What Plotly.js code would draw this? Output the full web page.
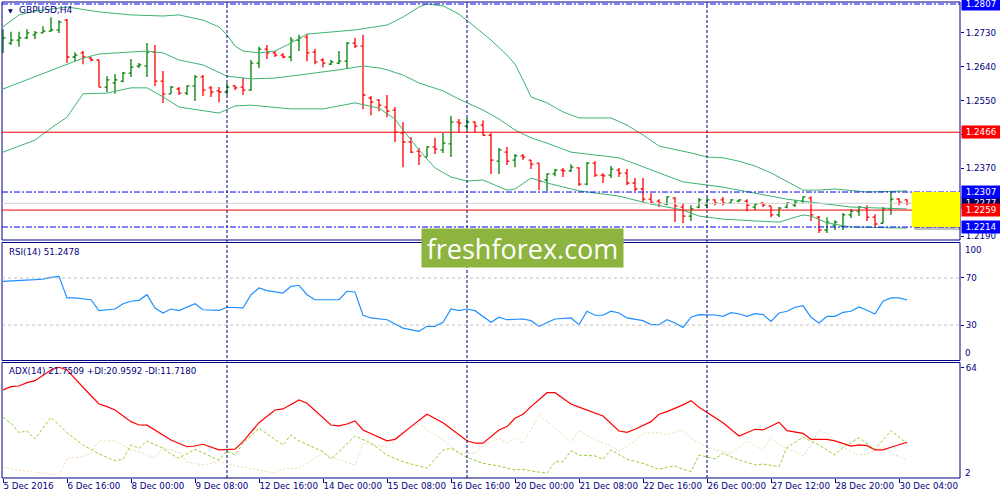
<!DOCTYPE html>
<html>
<head>
<meta charset="utf-8">
<script src="https://cdn.plot.ly/plotly-3.0.1.min.js"></script>
<style>
    html, body { margin: 0; padding: 0; background: #ffffff; }
    #chart { width: 1000px; height: 500px; }
</style>
</head>
<body>
<div id="chart"></div>
<script>
/*jslint browser:true */

var NAVY = '#000080';
var FONT = 'DejaVu Sans';

// time axis: one slot per H4 bar
var tickBars = [0, 8, 16, 24, 32, 40, 48, 56, 64, 72, 80, 88, 96, 104, 112];
var tickLabels = ['5 Dec 2016', '6 Dec 16:00', '8 Dec 00:00', '9 Dec 08:00', '12 Dec 16:00',
    '14 Dec 00:00', '15 Dec 08:00', '16 Dec 16:00', '20 Dec 00:00', '21 Dec 08:00',
    '22 Dec 16:00', '26 Dec 00:00', '27 Dec 12:00', '28 Dec 20:00', '30 Dec 04:00'];
var weekSeparators = [28, 58, 88];

// GBPUSD H4 bars
var barOpen = [1.2703, 1.2703, 1.2711, 1.2717, 1.2725, 1.2730, 1.2735, 1.2738, 1.2764, 1.2666,
    1.2677, 1.2663, 1.2658, 1.2586, 1.2597, 1.2602, 1.2623, 1.2642, 1.2642, 1.2679,
    1.2602, 1.2568, 1.2581, 1.2570, 1.2589, 1.2613, 1.2584, 1.2576, 1.2573, 1.2589,
    1.2586, 1.2578, 1.2650, 1.2687, 1.2677, 1.2671, 1.2666, 1.2711, 1.2719, 1.2679,
    1.2658, 1.2647, 1.2650, 1.2655, 1.2703, 1.2695, 1.2557, 1.2552, 1.2533, 1.2525,
    1.2464, 1.2440, 1.2416, 1.2400, 1.2427, 1.2419, 1.2435, 1.2493, 1.2482, 1.2493,
    1.2485, 1.2458, 1.2389, 1.2413, 1.2392, 1.2403, 1.2392, 1.2384, 1.2339, 1.2355,
    1.2365, 1.2363, 1.2371, 1.2328, 1.2384, 1.2352, 1.2352, 1.2365, 1.2357, 1.2331,
    1.2315, 1.2288, 1.2283, 1.2275, 1.2291, 1.2267, 1.2243, 1.2267, 1.2272, 1.2286,
    1.2286, 1.2278, 1.2283, 1.2283, 1.2267, 1.2278, 1.2270, 1.2246, 1.2267, 1.2272,
    1.2283, 1.2291, 1.2240, 1.2206, 1.2219, 1.2216, 1.2246, 1.2256, 1.2264, 1.2240,
    1.2224, 1.2262, 1.2288, 1.2286];
var barHigh = [1.2740, 1.2733, 1.2733, 1.2740, 1.2735, 1.2748, 1.2772, 1.2764, 1.2767, 1.2679,
    1.2682, 1.2666, 1.2658, 1.2615, 1.2621, 1.2626, 1.2661, 1.2650, 1.2703, 1.2698,
    1.2629, 1.2589, 1.2586, 1.2591, 1.2618, 1.2618, 1.2589, 1.2586, 1.2597, 1.2591,
    1.2610, 1.2658, 1.2693, 1.2698, 1.2682, 1.2677, 1.2719, 1.2725, 1.2727, 1.2687,
    1.2663, 1.2658, 1.2682, 1.2706, 1.2717, 1.2725, 1.2562, 1.2554, 1.2565, 1.2533,
    1.2493, 1.2453, 1.2424, 1.2429, 1.2451, 1.2464, 1.2509, 1.2501, 1.2504, 1.2495,
    1.2498, 1.2464, 1.2424, 1.2427, 1.2408, 1.2408, 1.2392, 1.2384, 1.2357, 1.2368,
    1.2371, 1.2381, 1.2373, 1.2387, 1.2389, 1.2357, 1.2376, 1.2371, 1.2368, 1.2344,
    1.2344, 1.2304, 1.2288, 1.2296, 1.2294, 1.2278, 1.2272, 1.2291, 1.2291, 1.2288,
    1.2294, 1.2288, 1.2288, 1.2288, 1.2278, 1.2280, 1.2270, 1.2267, 1.2280, 1.2286,
    1.2296, 1.2296, 1.2243, 1.2240, 1.2232, 1.2251, 1.2262, 1.2270, 1.2272, 1.2248,
    1.2267, 1.2310, 1.2291, 1.2288];
var barLow = [1.2677, 1.2698, 1.2693, 1.2714, 1.2714, 1.2730, 1.2733, 1.2730, 1.2650, 1.2655,
    1.2647, 1.2655, 1.2586, 1.2573, 1.2568, 1.2599, 1.2613, 1.2637, 1.2613, 1.2589,
    1.2544, 1.2568, 1.2565, 1.2565, 1.2549, 1.2562, 1.2560, 1.2546, 1.2565, 1.2578,
    1.2565, 1.2576, 1.2637, 1.2661, 1.2666, 1.2663, 1.2655, 1.2682, 1.2655, 1.2647,
    1.2639, 1.2645, 1.2647, 1.2634, 1.2690, 1.2527, 1.2511, 1.2522, 1.2506, 1.2440,
    1.2373, 1.2411, 1.2379, 1.2400, 1.2408, 1.2411, 1.2400, 1.2466, 1.2472, 1.2466,
    1.2458, 1.2355, 1.2355, 1.2379, 1.2373, 1.2392, 1.2368, 1.2312, 1.2310, 1.2349,
    1.2347, 1.2360, 1.2323, 1.2325, 1.2347, 1.2331, 1.2344, 1.2347, 1.2325, 1.2310,
    1.2280, 1.2275, 1.2267, 1.2272, 1.2227, 1.2224, 1.2230, 1.2264, 1.2264, 1.2272,
    1.2272, 1.2275, 1.2280, 1.2256, 1.2259, 1.2267, 1.2240, 1.2240, 1.2264, 1.2267,
    1.2278, 1.2230, 1.2198, 1.2198, 1.2206, 1.2206, 1.2238, 1.2243, 1.2230, 1.2216,
    1.2224, 1.2246, 1.2272, 1.2272];
var barClose = [1.2717, 1.2711, 1.2717, 1.2730, 1.2730, 1.2735, 1.2738, 1.2759, 1.2666, 1.2671,
    1.2666, 1.2658, 1.2586, 1.2605, 1.2605, 1.2623, 1.2639, 1.2645, 1.2679, 1.2602,
    1.2568, 1.2586, 1.2570, 1.2589, 1.2613, 1.2578, 1.2573, 1.2573, 1.2586, 1.2584,
    1.2578, 1.2650, 1.2687, 1.2677, 1.2671, 1.2666, 1.2711, 1.2717, 1.2677, 1.2653,
    1.2650, 1.2653, 1.2655, 1.2703, 1.2695, 1.2565, 1.2546, 1.2538, 1.2522, 1.2466,
    1.2440, 1.2413, 1.2403, 1.2427, 1.2421, 1.2437, 1.2493, 1.2490, 1.2493, 1.2482,
    1.2458, 1.2392, 1.2419, 1.2389, 1.2403, 1.2400, 1.2381, 1.2336, 1.2355, 1.2365,
    1.2363, 1.2373, 1.2328, 1.2384, 1.2352, 1.2350, 1.2368, 1.2357, 1.2331, 1.2315,
    1.2288, 1.2280, 1.2278, 1.2294, 1.2270, 1.2243, 1.2262, 1.2286, 1.2286, 1.2278,
    1.2278, 1.2286, 1.2286, 1.2272, 1.2275, 1.2272, 1.2246, 1.2264, 1.2278, 1.2280,
    1.2294, 1.2246, 1.2206, 1.2227, 1.2227, 1.2246, 1.2256, 1.2267, 1.2240, 1.2222,
    1.2262, 1.2288, 1.2280, 1.2277];

// Bollinger Bands (read at the bars where the curve bends)
var bbUpperBar = [0, 2, 4, 8, 12, 16, 20, 22, 25, 27, 28, 29, 30, 32, 34, 36, 38, 40, 44, 48,
    50, 52, 53, 55, 57, 59, 61, 63, 64, 65, 66, 68, 70, 72, 76, 78, 80, 82, 84, 86,
    88, 90, 92, 94, 96, 98, 100, 102, 104, 108, 113];
var bbUpper = [1.2746, 1.2778, 1.2788, 1.2799, 1.2786, 1.2778, 1.2775, 1.2778, 1.2764, 1.2746,
    1.2725, 1.2695, 1.2682, 1.2677, 1.2682, 1.2703, 1.2727, 1.2730, 1.2738, 1.2751,
    1.2772, 1.2799, 1.2807, 1.2802, 1.2780, 1.2746, 1.2711, 1.2671, 1.2647, 1.2605,
    1.2560, 1.2544, 1.2520, 1.2504, 1.2504, 1.2485, 1.2459, 1.2429, 1.2421, 1.2411,
    1.2400, 1.2398, 1.2389, 1.2376, 1.2358, 1.2334, 1.2312, 1.2312, 1.2315, 1.2307, 1.2310];
var bbMidBar = [0, 4, 8, 10, 12, 16, 18, 20, 22, 25, 28, 31, 34, 37, 40, 42, 45, 47, 48, 50,
    52, 55, 57, 60, 62, 64, 66, 68, 71, 75, 77, 80, 82, 85, 90, 94, 98, 101, 106, 113];
var bbMid = [1.2581, 1.2613, 1.2647, 1.2663, 1.2674, 1.2679, 1.2682, 1.2677, 1.2658, 1.2645,
    1.2615, 1.2608, 1.2610, 1.2618, 1.2626, 1.2632, 1.2642, 1.2637, 1.2632, 1.2618,
    1.2597, 1.2576, 1.2554, 1.2525, 1.2501, 1.2472, 1.2451, 1.2437, 1.2413, 1.2403,
    1.2398, 1.2374, 1.2358, 1.2334, 1.2320, 1.2304, 1.2288, 1.2280, 1.2267, 1.2262];
var bbLowBar = [0, 4, 6, 8, 10, 13, 16, 18, 20, 22, 27, 29, 31, 36, 40, 44, 47, 49, 50, 52,
    54, 56, 58, 60, 63, 64, 66, 68, 72, 77, 81, 85, 87, 90, 94, 97, 100, 101, 103, 106, 113];
var bbLow = [1.2413, 1.2445, 1.2477, 1.2506, 1.2568, 1.2570, 1.2584, 1.2584, 1.2560, 1.2533,
    1.2517, 1.2536, 1.2538, 1.2528, 1.2528, 1.2544, 1.2530, 1.2501, 1.2472, 1.2419,
    1.2371, 1.2347, 1.2336, 1.2339, 1.2312, 1.2315, 1.2344, 1.2331, 1.2310, 1.2296,
    1.2275, 1.2259, 1.2243, 1.2235, 1.2230, 1.2227, 1.2246, 1.2243, 1.2225, 1.2214, 1.2211];

// RSI(14)
var rsiBar = [0, 2, 4, 5, 6, 7, 8, 9, 11, 12, 14, 15, 16, 17, 18, 19, 20, 21, 22, 24,
    25, 27, 28, 30, 31, 32, 33, 35, 36, 37, 38, 39, 42, 43, 44, 45, 46, 48, 50, 52,
    53, 54, 55, 56, 57, 58, 59, 61, 62, 63, 65, 66, 67, 69, 71, 72, 73, 74, 75, 76,
    77, 78, 80, 81, 82, 83, 84, 85, 86, 87, 89, 90, 91, 92, 93, 94, 95, 96, 97, 98,
    99, 100, 101, 102, 103, 104, 105, 106, 107, 108, 109, 110, 111, 112, 113];
var rsiValue = [67.2, 67.7, 68.6, 69.1, 70.6, 71.4, 53.0, 53.0, 51.5, 42.2,
    43.6, 48.1, 50.2, 51.0, 55.8, 44.5, 40.2, 43.6, 42.2, 48.1,
    43.0, 42.5, 45.1, 44.5, 55.8, 61.5, 59.2, 57.2, 62.9, 63.8,
    55.8, 51.5, 51.5, 58.7, 58.1, 38.3, 36.0, 34.5, 27.4, 24.6,
    28.9, 28.9, 32.3, 43.6, 42.2, 43.6, 42.2, 32.3, 36.6, 34.5,
    35.1, 33.7, 28.9, 35.1, 36.0, 30.3, 41.7, 38.3, 38.3, 41.7,
    40.2, 36.0, 33.7, 30.3, 30.3, 34.5, 31.7, 28.0, 36.6, 38.8,
    38.5, 37.4, 40.5, 39.6, 37.4, 39.6, 38.8, 33.1, 40.2, 41.7,
    45.1, 46.4, 36.6, 31.7, 37.4, 37.4, 40.8, 41.7, 45.3, 42.5,
    39.4, 50.2, 53.0, 53.0, 51.25];
var rsiLevels = [70, 30];

// ADX(14) with +DI / -DI
var adxBar = [0, 1, 2, 3, 4, 6, 7, 8, 10, 12, 13, 14, 16, 17, 18, 19, 21, 23, 24, 25,
    26, 27, 29, 30, 32, 34, 35, 37, 38, 41, 42, 43, 44, 45, 48, 49, 51, 53, 55, 58,
    59, 60, 62, 63, 64, 65, 66, 68, 69, 70, 71, 72, 74, 75, 77, 78, 79, 81, 82, 83,
    85, 86, 87, 88, 90, 92, 94, 95, 97, 98, 100, 101, 103, 104, 106, 107, 108, 109, 110, 111, 113];
var adxValue = [51.4, 53.2, 53.6, 55.5, 56.6, 62.7, 64.2, 62.7, 52.9, 43.4,
    41.9, 40.0, 33.4, 31.5, 31.4, 28.7, 23.0, 19.2, 19.6, 20.6,
    19.2, 17.4, 17.8, 22.1, 32.8, 40.0, 40.6, 45.7, 43.8, 31.5,
    31.0, 32.1, 33.8, 28.7, 22.5, 23.4, 30.6, 37.6, 32.8, 22.6,
    21.2, 21.2, 28.7, 30.6, 35.3, 37.6, 41.9, 49.8, 49.8, 46.7,
    43.4, 41.6, 38.2, 36.6, 28.1, 27.4, 29.1, 33.4, 37.6, 39.1,
    42.9, 45.3, 41.6, 38.5, 32.8, 25.3, 29.1, 28.7, 33.1, 28.3,
    26.8, 23.4, 23.4, 22.5, 19.6, 20.2, 19.8, 17.4, 17.4, 18.9, 21.75];
var plusDiBar = [0, 1, 2, 3, 4, 6, 8, 10, 12, 14, 15, 16, 17, 18, 20, 21, 22, 24, 26, 27,
    28, 29, 30, 32, 35, 36, 37, 40, 41, 44, 46, 48, 50, 53, 55, 56, 58, 60, 62, 64,
    65, 66, 68, 69, 70, 71, 72, 74, 75, 76, 78, 80, 82, 83, 84, 85, 86, 87, 89, 90,
    92, 94, 95, 97, 98, 100, 102, 104, 105, 107, 109, 111, 113];
var plusDi = [35.9, 32.5, 27.2, 28.1, 23.6, 35.9, 27.2, 20.2, 15.1, 11.3,
    12.1, 20.2, 18.3, 22.5, 18.3, 14.9, 12.7, 17.8, 13.6, 11.7,
    16.8, 14.5, 21.2, 29.7, 20.2, 25.9, 22.5, 16.4, 12.1, 25.3,
    21.2, 14.5, 10.7, 7.0, 17.4, 18.3, 13.2, 9.8, 8.3, 6.0,
    6.4, 5.5, 4.2, 10.7, 10.7, 17.0, 14.5, 14.0, 12.1, 17.4,
    12.1, 9.8, 6.4, 7.6, 8.3, 6.4, 5.1, 14.5, 12.3, 15.5,
    11.7, 8.9, 9.4, 7.9, 18.9, 24.6, 20.2, 14.5, 18.9, 24.3,
    17.8, 28.3, 20.96];
var minusDiBar = [0, 2, 5, 7, 8, 10, 11, 12, 14, 16, 17, 19, 20, 22, 23, 25, 27, 29, 32, 34,
    35, 37, 40, 41, 44, 45, 48, 51, 52, 55, 57, 59, 60, 62, 63, 64, 65, 67, 69, 71,
    72, 74, 76, 77, 79, 80, 82, 83, 85, 86, 88, 89, 91, 93, 94, 95, 96, 97, 99, 100,
    101, 102, 103, 105, 107, 108, 110, 111, 113];
var minusDi = [7.6, 6.0, 4.2, 3.2, 12.7, 13.6, 15.5, 22.5, 22.5, 17.4,
    16.4, 12.7, 18.7, 15.8, 10.7, 8.9, 10.7, 8.5, 6.0, 4.2,
    7.0, 7.0, 15.5, 13.6, 8.9, 21.2, 18.9, 30.6, 32.1, 23.0,
    15.8, 15.5, 19.6, 24.0, 21.5, 24.0, 21.2, 37.2, 29.7, 22.1,
    28.3, 23.0, 19.6, 16.4, 22.6, 26.8, 27.2, 25.9, 28.7, 24.0,
    18.9, 17.4, 15.5, 22.5, 19.6, 17.4, 24.6, 20.2, 16.4, 14.0,
    20.2, 28.3, 26.8, 18.9, 14.5, 15.1, 18.9, 15.5, 11.72];

// horizontal levels drawn on the price window
var blueLevels = [1.2807, 1.2307, 1.2214];
var redLevels = [1.2466, 1.2259];
var bidPrice = 1.2277;
var priceTicks = [1.2730, 1.2640, 1.2550, 1.2460, 1.2370, 1.2190];

var titlePrice = 'GBPUSD,H4';
var titleRsi = 'RSI(14) 51.2478';
var titleAdx = 'ADX(14) 21.7509 +DI:20.9592 -DI:11.7180';

// ---- geometry of the three windows (pixels of the 1000x500 page) ----
var PLOT_L = 2, PLOT_R = 960, PLOT_T = 2, PLOT_B = 478;
var xMin = -0.125, xMax = 119.625;

function paperX(px) {
    return (px - PLOT_L) / (PLOT_R - PLOT_L);
}
function paperY(py) {
    return (PLOT_B - py) / (PLOT_B - PLOT_T);
}

var barIdx = barOpen.map(function (v, i) { return i; });

var data = [
    {
        type: 'ohlc', x: barIdx, open: barOpen, high: barHigh, low: barLow, close: barClose,
        xaxis: 'x', yaxis: 'y', tickwidth: 0.3, hoverinfo: 'skip',
        increasing: {line: {color: '#008000', width: 1.3}},
        decreasing: {line: {color: '#ff0000', width: 1.3}}
    },
    {type: 'scatter', mode: 'lines', x: bbUpperBar, y: bbUpper, yaxis: 'y', line: {color: '#3cb371', width: 1}},
    {type: 'scatter', mode: 'lines', x: bbMidBar, y: bbMid, yaxis: 'y', line: {color: '#3cb371', width: 1}},
    {type: 'scatter', mode: 'lines', x: bbLowBar, y: bbLow, yaxis: 'y', line: {color: '#3cb371', width: 1}},
    {type: 'scatter', mode: 'lines', x: rsiBar, y: rsiValue, yaxis: 'y2', line: {color: '#1e90ff', width: 1.2}},
    {type: 'scatter', mode: 'lines', x: minusDiBar, y: minusDi, yaxis: 'y3', line: {color: '#f0d6a8', width: 1, dash: '2px,2px'}},
    {type: 'scatter', mode: 'lines', x: plusDiBar, y: plusDi, yaxis: 'y3', line: {color: '#9acd32', width: 1, dash: '3px,2px'}},
    {type: 'scatter', mode: 'lines', x: adxBar, y: adxValue, yaxis: 'y3', line: {color: '#ff0000', width: 1.2}}
];

var shapes = [];
['y', 'y2', 'y3'].forEach(function (ax) {
    shapes.push({type: 'rect', xref: 'paper', x0: 0, x1: 1, yref: ax + ' domain', y0: 0, y1: 1,
        line: {color: NAVY, width: 1}});
});
weekSeparators.forEach(function (b) {
    shapes.push({type: 'line', xref: 'x', x0: b, x1: b, yref: 'paper', y0: 0, y1: 1,
        line: {color: NAVY, width: 1, dash: '3px,2px'}});
});
rsiLevels.forEach(function (v) {
    shapes.push({type: 'line', xref: 'x domain', x0: 0, x1: 1, yref: 'y2', y0: v, y1: v,
        line: {color: '#c0c0c0', width: 1, dash: '3px,3px'}});
});
shapes.push({type: 'line', xref: 'x domain', x0: 0, x1: 1, yref: 'y', y0: bidPrice, y1: bidPrice,
    line: {color: '#d3d3d3', width: 1}});
redLevels.forEach(function (v) {
    shapes.push({type: 'line', xref: 'x domain', x0: 0, x1: 1, yref: 'y', y0: v, y1: v,
        line: {color: '#ff0000', width: 1}});
});
blueLevels.forEach(function (v) {
    shapes.push({type: 'line', xref: 'x domain', x0: 0, x1: 1, yref: 'y', y0: v, y1: v,
        line: {color: '#0000ff', width: 1, dash: '6px,2px,2px,2px'}});
});
// yellow target zone between the two lower blue levels, right of the last bar
var lastBar = barIdx.length - 1;
shapes.push({type: 'rect', xref: 'x', x0: lastBar + 0.9, x1: xMax + 0.3, yref: 'y',
    y0: blueLevels[2] - 0.0008, y1: blueLevels[1] - 0.0008,
    line: {width: 0}, fillcolor: 'rgba(0,0,0,0.25)'});
shapes.push({type: 'rect', xref: 'x', x0: lastBar + 0.6, x1: xMax, yref: 'y',
    y0: blueLevels[2], y1: blueLevels[1],
    line: {width: 0}, fillcolor: '#ffff00'});

function levelBox(price, color) {
    return {xref: 'paper', x: 1, xanchor: 'left', xshift: 1, yref: 'y', y: price, yanchor: 'middle',
        text: price.toFixed(4), showarrow: false, bgcolor: color, borderpad: 1, width: 36, height: 10,
        font: {family: FONT, size: 8.7, color: '#ffffff'}};
}
function label(px, py, text, size) {
    return {xref: 'paper', yref: 'paper', x: paperX(px), y: paperY(py), xanchor: 'left', yanchor: 'middle',
        text: text, showarrow: false, font: {family: FONT, size: size || 8.7, color: NAVY}};
}

var annotations = [
    levelBox(bidPrice, '#000060'),
    levelBox(blueLevels[0], '#0000ff'),
    levelBox(redLevels[0], '#ff0000'),
    levelBox(blueLevels[1], '#0000ff'),
    levelBox(redLevels[1], '#ff0000'),
    levelBox(blueLevels[2], '#0000ff'),
    label(6, 10, '▼', 6),
    label(17, 10, titlePrice, 9),
    label(7, 252, titleRsi),
    label(7, 371, titleAdx),
    label(963, 250, '100'),
    label(963, 353, '0'),
    label(963, 473, '2'),
    {xref: 'paper', yref: 'paper', x: paperX(522.5), y: paperY(248), xanchor: 'center', yanchor: 'middle',
        text: 'freshforex.com', showarrow: false, bgcolor: '#8db43e', borderpad: 0,
        width: 201, height: 38, font: {family: 'Open Sans', size: 27, color: '#ffffff'}}
];

var rightAxis = {
    side: 'right', ticks: 'outside', ticklen: 3, tickcolor: NAVY, showgrid: false, zeroline: false,
    showline: false, fixedrange: true, tickfont: {family: FONT, size: 8.7, color: NAVY}
};

var layout = {
    width: 1000, height: 500,
    margin: {l: PLOT_L, r: 1000 - PLOT_R, t: PLOT_T, b: 500 - PLOT_B},
    paper_bgcolor: '#ffffff', plot_bgcolor: '#ffffff',
    showlegend: false,
    font: {family: FONT, size: 8.7, color: NAVY},
    xaxis: {
        range: [xMin, xMax], anchor: 'y3', tickvals: tickBars, ticktext: tickLabels,
        tickangle: 0, ticks: 'outside', ticklen: 4, tickcolor: NAVY, ticklabelposition: 'outside right',
        showgrid: false, zeroline: false, showline: false, fixedrange: true,
        rangeslider: {visible: false},
        tickfont: {family: FONT, size: 8.7, color: NAVY}
    },
    yaxis: Object.assign({}, rightAxis, {
        domain: [paperY(240), 1], range: [1.21794, 1.28123],
        tickvals: priceTicks, tickformat: '.4f'
    }),
    yaxis2: Object.assign({}, rightAxis, {
        domain: [paperY(360.5), paperY(242.5)], range: [-0.2, 100.2],
        tickvals: rsiLevels
    }),
    yaxis3: Object.assign({}, rightAxis, {
        domain: [0, paperY(362.5)], range: [1.5, 66.9],
        tickvals: [64]
    }),
    shapes: shapes,
    annotations: annotations
};

Plotly.newPlot('chart', data, layout, {displayModeBar: false, staticPlot: true});
</script>
</body>
</html>
